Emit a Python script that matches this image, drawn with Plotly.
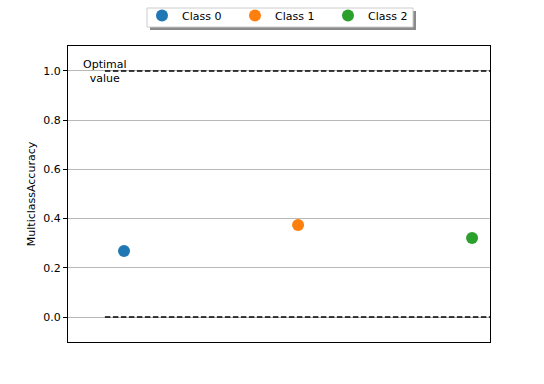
import plotly.graph_objects as go

classes = ["Class 0", "Class 1", "Class 2"]
values = [0.268, 0.374, 0.321]
colors = ["#1f77b4", "#ff7f0e", "#2ca02c"]
optimal_value = 1.0
worst_value = 0.0
y_ticks = [0.0, 0.2, 0.4, 0.6, 0.8, 1.0]

W, H = 544, 384
L, R, T, B = 68, 54, 46, 42
pw, ph = W - L - R, H - T - B

fig = go.Figure()
for i, (c, v, col) in enumerate(zip(classes, values, colors)):
    fig.add_trace(go.Scatter(x=[i], y=[v], mode="markers", name=c,
                             marker=dict(size=12, color=col), showlegend=True))

for yv in [optimal_value, worst_value]:
    fig.add_trace(go.Scatter(x=[-0.11, 2.5], y=[yv, yv], mode="lines",
                             line=dict(color="black", dash="5.5px,2.5px", width=1.5),
                             showlegend=False, hoverinfo="skip"))

fig.add_annotation(x=-0.11, y=optimal_value, text="Optimal<br>value", showarrow=False,
                   xanchor="center", yanchor="middle", yshift=-1,
                   font=dict(size=11, color="black", family="DejaVu Sans"))

# legend frame geometry (px)
lx0, lx1, ly0, ly1 = 147, 413, 8, 27
def px2paper_x(x):
    return (x - L) / pw
def px2paper_y(y):
    return 1 - (y - T) / ph

fig.add_shape(type="rect", xref="paper", yref="paper",
              x0=px2paper_x(lx0 + 3), x1=px2paper_x(lx1 + 3),
              y0=px2paper_y(ly1 + 3), y1=px2paper_y(ly0 + 3),
              fillcolor="#8a8a8a", line=dict(width=0), layer="above")
fig.add_shape(type="rect", xref="paper", yref="paper",
              x0=px2paper_x(lx0), x1=px2paper_x(lx1),
              y0=px2paper_y(ly1), y1=px2paper_y(ly0),
              fillcolor="white", line=dict(width=1, color="#cccccc"), layer="above")

fig.update_layout(
    width=W, height=H,
    margin=dict(l=L, r=R, t=T, b=B, autoexpand=False),
    paper_bgcolor="white", plot_bgcolor="white",
    font=dict(family="DejaVu Sans", size=11, color="black"),
    showlegend=True,
    legend=dict(orientation="h", xref="container", yref="container",
                x=142 / W, xanchor="left",
                y=1 - 1 / H, yanchor="top",
                bgcolor="rgba(0,0,0,0)", borderwidth=0,
                font=dict(size=11), entrywidth=48, entrywidthmode="pixels",
                itemsizing="constant", tracegroupgap=0),
    xaxis=dict(range=[-0.322, 2.103], showticklabels=False, ticks="",
               showgrid=False, zeroline=False, showline=True, mirror=True,
               linecolor="black", linewidth=1),
    yaxis=dict(range=[-0.1016, 1.1016], tickvals=y_ticks,
               ticktext=[f"{t:.1f}" for t in y_ticks],
               ticks="outside", ticklen=4, tickcolor="black",
               showgrid=True, gridcolor="#b8b8b8", gridwidth=0.8, zeroline=False,
               showline=True, mirror=True, linecolor="black", linewidth=1,
               title=dict(text="MulticlassAccuracy", font=dict(size=11), standoff=5)),
)

fig.write_html("out.html")
